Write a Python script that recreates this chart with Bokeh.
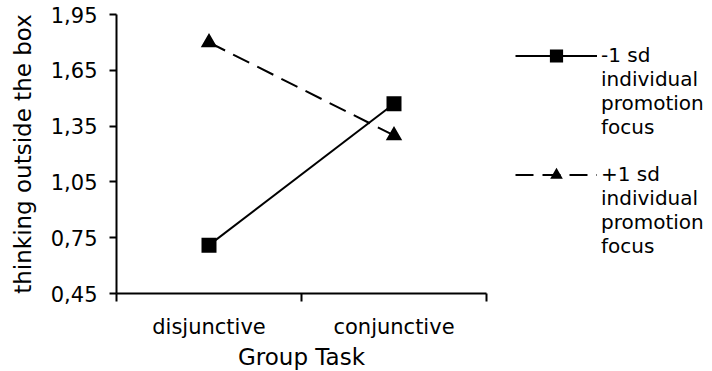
from bokeh.plotting import figure
from bokeh.models import Legend, LegendItem, FixedTicker, CustomJSTickFormatter, Range1d
from bokeh.embed import file_html
from bokeh.resources import INLINE

categories = ["disjunctive", "conjunctive"]
low_promo = [0.71, 1.47]
high_promo = [1.80, 1.30]
y_ticks = [0.45, 0.75, 1.05, 1.35, 1.65, 1.95]
legend_low = ["-1 sd", "individual", "promotion", "focus"]
legend_high = ["+1 sd", "individual", "promotion", "focus"]

FONT = "DejaVu Sans"

x_pos = [i + 0.5 for i in range(len(categories))]
x_bounds = [float(i) for i in range(len(categories) + 1)]

p = figure(x_range=Range1d(0, len(categories)), y_range=Range1d(0.45, 1.95),
           frame_width=370, frame_height=279, output_backend="svg", toolbar_location=None,
           min_border_left=116, min_border_right=0, min_border_top=14, min_border_bottom=0)
p.outline_line_color = None
p.grid.visible = False
p.background_fill_color = "white"

r1l = p.line(x_pos, low_promo, line_color="black", line_width=2)
r1m = p.scatter(x_pos, low_promo, marker="square", size=11, fill_color="black",
                line_color="black", line_width=4, line_join="miter")
r2l = p.line(x_pos, high_promo, line_color="black", line_width=2, line_dash="18 9")
r2m = p.scatter(x_pos, high_promo, marker="triangle", size=13, fill_color="black",
                line_color="black", line_width=2, line_join="miter")

for ax in (p.xaxis, p.yaxis):
    ax.axis_line_color = "black"
    ax.axis_line_width = 2
    ax.major_label_text_font = FONT
    ax.major_label_text_font_size = "21px"
    ax.major_label_text_color = "black"
    ax.axis_label_text_font = FONT
    ax.axis_label_text_font_size = "23px"
    ax.axis_label_text_font_style = "normal"
    ax.axis_label_text_color = "black"

p.yaxis.ticker = FixedTicker(ticks=y_ticks)
p.yaxis.formatter = CustomJSTickFormatter(code="return tick.toFixed(2).replace('.', ',');")
p.yaxis.major_tick_line_color = "black"
p.yaxis.major_tick_line_width = 2
p.yaxis.minor_tick_line_color = None
p.yaxis.major_tick_in = 0
p.yaxis.major_tick_out = 7
p.yaxis.major_label_standoff = 12
p.yaxis.axis_label = "thinking outside the box"
p.yaxis.axis_label_standoff = 12

p.xaxis.ticker = FixedTicker(ticks=x_pos, minor_ticks=x_bounds)
p.xaxis.formatter = CustomJSTickFormatter(args=dict(labels=categories),
                                          code="return labels[Math.floor(tick)];")
p.xaxis.major_tick_line_color = None
p.xaxis.major_tick_in = 0
p.xaxis.major_tick_out = 0
p.xaxis.minor_tick_line_color = "black"
p.xaxis.minor_tick_line_width = 2
p.xaxis.minor_tick_in = 0
p.xaxis.minor_tick_out = 8
p.xaxis.major_label_standoff = 13
p.xaxis.axis_label = "Group Task"
p.xaxis.axis_label_standoff = 2

items = [LegendItem(label=legend_low[0], renderers=[r1l, r1m])]
items += [LegendItem(label=t, renderers=[]) for t in legend_low[1:]]
items += [LegendItem(label=" ", renderers=[])]
items += [LegendItem(label=legend_high[0], renderers=[r2l, r2m])]
items += [LegendItem(label=t, renderers=[]) for t in legend_high[1:]]

legend = Legend(items=items, location="top_left")
legend.border_line_color = None
legend.background_fill_alpha = 0
legend.label_text_font = FONT
legend.label_text_font_size = "20px"
legend.label_text_color = "black"
legend.glyph_width = 82
legend.glyph_height = 23
legend.label_height = 23
legend.label_standoff = 4
legend.spacing = 0
legend.padding = 1
legend.margin = 29
p.add_layout(legend, "right")

open("out.html", "w").write(file_html(p, INLINE))
